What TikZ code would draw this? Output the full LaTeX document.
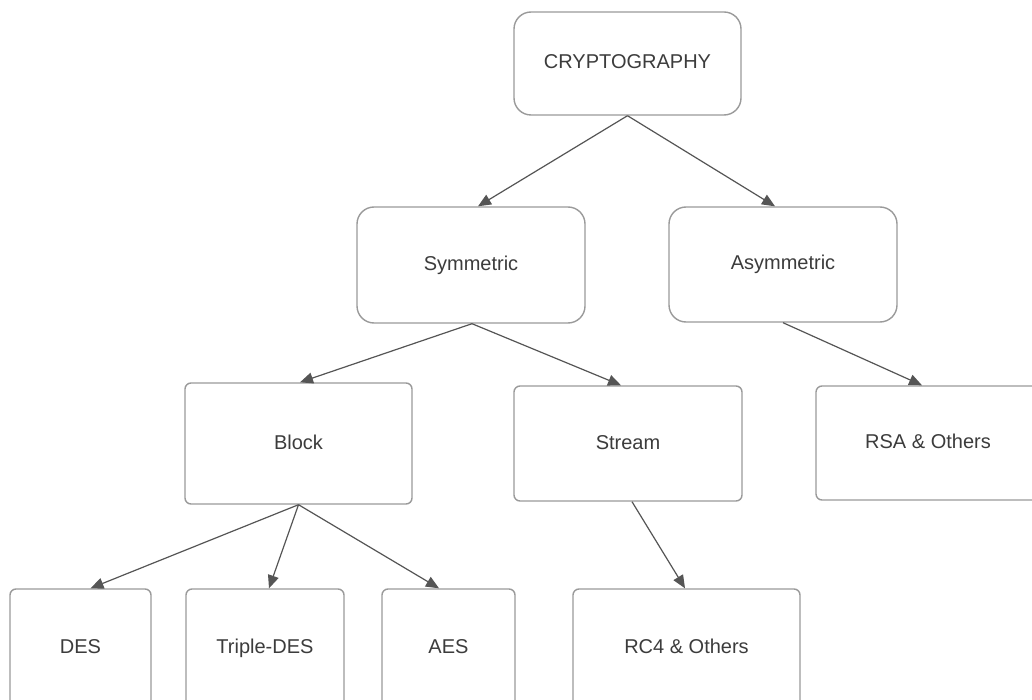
\documentclass[tikz,border=0pt]{standalone}
\usepackage{fontspec}
\setmainfont{Liberation Sans}
\usetikzlibrary{arrows.meta}
\definecolor{boxline}{HTML}{9A9A9A}
\definecolor{wire}{HTML}{555555}
\definecolor{ink}{HTML}{3C3C3C}
\begin{document}
\begin{tikzpicture}[x=1pt,y=-1pt,
  box/.style={draw=boxline, line width=1.4pt, fill=white, text=ink,
    font=\fontsize{20}{23}\selectfont, inner sep=0pt,
    text height=14pt, text depth=3pt},
  bigbox/.style={box, rounded corners=17pt},
  smallbox/.style={box, rounded corners=6pt},
  link/.style={draw=wire, line width=1.2pt, -{Triangle[length=13pt,width=11pt]}}
]
\useasboundingbox (0,0) rectangle (1032,700);
\clip (0,0) rectangle (1032,700);
\fill[white] (0,0) rectangle (1032,700);

% top levels
\node[bigbox, minimum width=227pt, minimum height=103pt] (crypto) at (627.5,63.5) {CRYPTOGRAPHY};
\node[bigbox, minimum width=228pt, minimum height=116pt] (sym) at (471,265) {Symmetric};
\node[bigbox, minimum width=228pt, minimum height=115pt] (asym) at (783,264.5) {Asymmetric};

% second level
\node[smallbox, minimum width=227pt, minimum height=121pt] (block) at (298.5,443.5) {Block};
\node[smallbox, minimum width=228pt, minimum height=115pt] (stream) at (628,443.5) {Stream};
\node[smallbox, minimum width=224pt, minimum height=114pt] (rsa) at (928,443) {RSA \& Others};

% leaves
\node[smallbox, minimum width=141pt, minimum height=118pt] (des) at (80.5,648) {DES};
\node[smallbox, minimum width=158pt, minimum height=118pt] (tdes) at (265,648) {Triple-DES};
\node[smallbox, minimum width=133pt, minimum height=118pt] (aes) at (448.5,648) {AES};
\node[smallbox, minimum width=227pt, minimum height=118pt] (rc4) at (686.5,648) {RC4 \& Others};

% connectors
\draw[link] (crypto.south) -- ([xshift=7pt]sym.north);
\draw[link] (crypto.south) -- ([xshift=-8pt]asym.north);
\draw[link] ([xshift=1pt]sym.south) -- ([xshift=1.5pt]block.north);
\draw[link] ([xshift=1pt]sym.south) -- ([xshift=-7pt]stream.north);
\draw[link] (asym.south) -- ([xshift=-6pt]rsa.north);
\draw[link] (block.south) -- ([xshift=10pt]des.north);
\draw[link] (block.south) -- ([xshift=4pt]tdes.north);
\draw[link] (block.south) -- ([xshift=-9.5pt]aes.north);
\draw[link] ([xshift=4pt]stream.south) -- ([xshift=-1.5pt]rc4.north);
\end{tikzpicture}
\end{document}
